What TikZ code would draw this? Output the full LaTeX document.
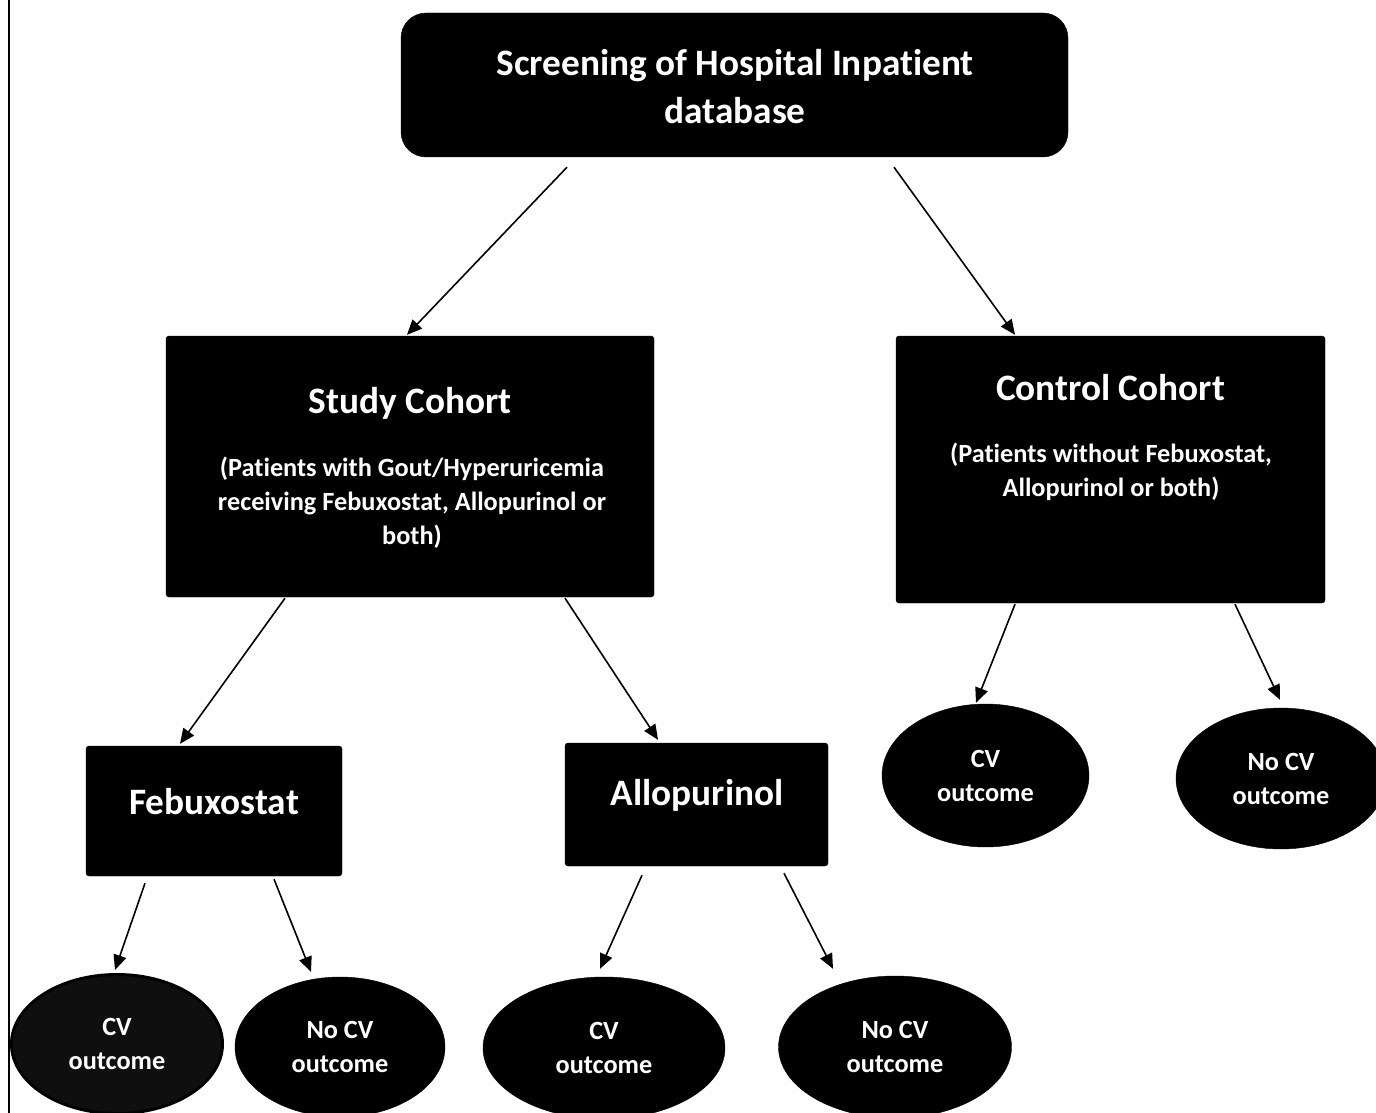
\documentclass[tikz,border=0pt]{standalone}
\usepackage{fontspec}
\setmainfont{Carlito}[Ligatures={NoCommon}]
\usetikzlibrary{arrows.meta,shapes.geometric,calc}
\begin{document}
\begin{tikzpicture}[x=1pt,y=-1pt,
  box/.style={fill=black,draw=black,rounded corners=3pt,inner sep=0pt},
  big/.style={text=white,font=\fontsize{37.3}{48}\selectfont\bfseries,align=center,inner sep=0pt},
  small/.style={text=white,font=\fontsize{26.3}{34}\selectfont\bfseries,align=center,inner sep=0pt},
  oval/.style={ellipse,fill=black,draw=black,inner sep=0pt,text=white,
    font=\fontsize{26.3}{34}\selectfont\bfseries,align=center},
  arr/.style={draw=black,line width=1.6pt,-{Triangle[length=15pt,width=13pt]}}]
\useasboundingbox (0,0) rectangle (1376,1113);
\fill[white] (0,0) rectangle (1376,1113);
\draw[line width=2.5pt] (9,0) -- (9,1113);

% boxes
\node[box,rounded corners=25pt,minimum width=667pt,minimum height=144pt] (top) at (734.5,85) {};
\node[big] (toptxt) at (735,87) {Screening of Hospital Inpatient\\database};

\node[box,minimum width=488pt,minimum height=261pt] (study) at (410,466.5) {};
\node[big] (studyt) at (410,403) {Study Cohort};
\node[small] (studys) at (412,503) {(Patients with Gout/Hyperuricemia\\receiving Febuxostat, Allopurinol or\\both)};

\node[box,minimum width=429pt,minimum height=267pt] (control) at (1110.5,469.5) {};
\node[big] (controlt) at (1110.5,388) {Control Cohort};
\node[small] (controls) at (1111,472) {(Patients without Febuxostat,\\Allopurinol or both)};

\node[box,minimum width=256pt,minimum height=130pt] (feb) at (214,811) {};
\node[big] (febt) at (214,802) {Febuxostat};

\node[box,minimum width=263pt,minimum height=123pt] (allo) at (696.5,804.5) {};
\node[big] (allot) at (697,795) {Allopurinol};

% ovals
\node[oval,fill=black!94,line width=3pt,minimum width=211pt,minimum height=139pt] (e1) at (117,1044) {CV\\outcome};
\node[oval,minimum width=210pt,minimum height=140pt] (e2) at (340,1047) {No CV\\outcome};
\node[oval,minimum width=242pt,minimum height=142pt] (e3) at (604,1048) {CV\\outcome};
\node[oval,minimum width=233pt,minimum height=142pt] (e4) at (895,1047) {No CV\\outcome};
\node[oval,minimum width=207pt,minimum height=143pt] (e5) at (985.5,775.5) {CV\\outcome};
\node[oval,minimum width=210pt,minimum height=141pt] (e6) at (1281,778.5) {No CV\\outcome};

% arrows
\draw[arr] ([xshift=-167.5pt,yshift=-10pt]top.south) -- ([xshift=-3pt,yshift=1pt]study.north);
\draw[arr] ([xshift=159.5pt,yshift=-10pt]top.south) -- ([xshift=-95.5pt,yshift=1pt]control.north);
\draw[arr] ([xshift=-125pt,yshift=-1pt]study.south) -- ([xshift=-34pt,yshift=2pt]feb.north);
\draw[arr] ([xshift=155pt,yshift=-1pt]study.south) -- ([xshift=-38.5pt,yshift=3pt]allo.north);
\draw[arr] ([xshift=-95.5pt,yshift=-1pt]control.south) -- ([xshift=-9.5pt,yshift=1pt]e5.north);
\draw[arr] ([xshift=124.5pt,yshift=-1pt]control.south) -- ([xshift=-1pt,yshift=8pt]e6.north);
\draw[arr] ([xshift=-69pt,yshift=-7pt]feb.south) -- ([xshift=-2pt,yshift=3pt]e1.north);
\draw[arr] ([xshift=60pt,yshift=-3pt]feb.south) -- ([xshift=-29pt,yshift=5pt]e2.north);
\draw[arr] ([xshift=-54.5pt,yshift=-9pt]allo.south) -- ([xshift=-4pt,yshift=8pt]e3.north);
\draw[arr] ([xshift=87.5pt,yshift=-7pt]allo.south) -- ([xshift=-62pt,yshift=7pt]e4.north);
\end{tikzpicture}
\end{document}
